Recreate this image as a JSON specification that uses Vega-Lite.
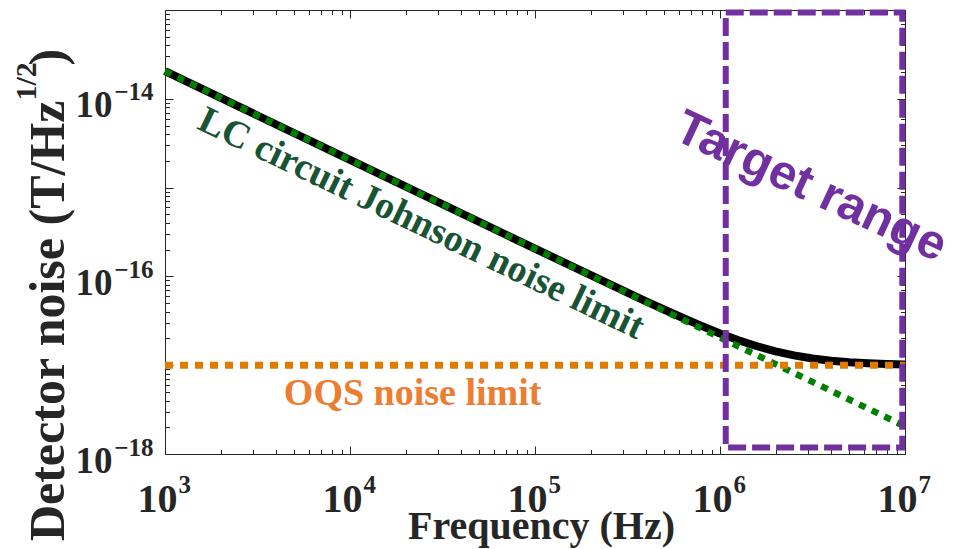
{
  "$schema": "https://vega.github.io/schema/vega-lite/v6.json",
  "autosize": {"type": "none"},
  "width": 740,
  "height": 444,
  "padding": {"left": 165, "top": 10, "right": 56, "bottom": 95},
  "background": "white",
  "config": {"font": "Liberation Serif", "view": {"stroke": null}, "axis": {"grid": false}},
  "datasets": {
    "total": [
      {"f": 1000, "v": 2.05e-14},
      {"f": 10000, "v": 2.05e-15},
      {"f": 100000, "v": 2.052e-16},
      {"f": 316228, "v": 6.56e-17},
      {"f": 398107, "v": 5.245e-17},
      {"f": 501187, "v": 4.211e-17},
      {"f": 630957, "v": 3.399e-17},
      {"f": 794328, "v": 2.768e-17},
      {"f": 1000000, "v": 2.281e-17},
      {"f": 1258925, "v": 1.911e-17},
      {"f": 1584893, "v": 1.635e-17},
      {"f": 1995262, "v": 1.434e-17},
      {"f": 2511886, "v": 1.291e-17},
      {"f": 3162278, "v": 1.192e-17},
      {"f": 3981072, "v": 1.125e-17},
      {"f": 5011872, "v": 1.0804e-17},
      {"f": 6309573, "v": 1.0515e-17},
      {"f": 7943282, "v": 1.0328e-17},
      {"f": 10000000, "v": 1.0208e-17}
    ],
    "johnson": [
      {"f": 1000, "v": 2.05e-14},
      {"f": 10000000, "v": 2.05e-18}
    ],
    "oqs": [
      {"f": 1000, "v": 1e-17},
      {"f": 10000000, "v": 1e-17}
    ],
    "target": [
      {"f1": 1074000, "f2": 9670000, "v1": 9.4e-14, "v2": 1.18e-18}
    ]
  },
  "resolve": {"axis": {"x": "independent", "y": "independent"}},
  "layer": [
    {
      "data": {"name": "total"},
      "mark": {"type": "line", "color": "black", "strokeWidth": 8},
      "encoding": {
        "x": {"field": "f", "type": "quantitative",
          "scale": {"type": "log", "domain": [1000, 10000000], "nice": false},
          "axis": {"orient": "bottom", "labels": false, "title": null, "domain": true, "domainColor": "#262626", "domainWidth": 1,
            "ticks": true, "tickColor": "#262626", "tickWidth": 1,
            "tickSize": {"condition": {"test": "abs(log(datum.value)/LN10 - round(log(datum.value)/LN10)) < 0.01", "value": -8}, "value": -4.5},
            "values": [1000,2000,3000,4000,5000,6000,7000,8000,9000,10000,20000,30000,40000,50000,60000,70000,80000,90000,100000,200000,300000,400000,500000,600000,700000,800000,900000,1000000,2000000,3000000,4000000,5000000,6000000,7000000,8000000,9000000,10000000]}},
        "y": {"field": "v", "type": "quantitative",
          "scale": {"type": "log", "domain": [1e-18, 1e-13], "nice": false},
          "axis": {"orient": "left", "labels": false, "title": null, "domain": true, "domainColor": "#262626", "domainWidth": 1,
            "ticks": true, "tickColor": "#262626", "tickWidth": 1,
            "tickSize": {"condition": {"test": "abs(log(datum.value)/LN10 - round(log(datum.value)/LN10)) < 0.01", "value": -8}, "value": -4.5},
            "values": [1e-18,2e-18,3e-18,4e-18,5e-18,6e-18,7e-18,8e-18,9e-18,1e-17,2e-17,3e-17,4e-17,5e-17,6e-17,7e-17,8e-17,9e-17,1e-16,2e-16,3e-16,4e-16,5e-16,6e-16,7e-16,8e-16,9e-16,1e-15,2e-15,3e-15,4e-15,5e-15,6e-15,7e-15,8e-15,9e-15,1e-14,2e-14,3e-14,4e-14,5e-14,6e-14,7e-14,8e-14,9e-14,1e-13]}}
      }
    },
    {
      "data": {"name": "johnson"},
      "mark": {"type": "line", "color": "#008000", "strokeWidth": 6.5, "strokeDash": [7, 7]},
      "encoding": {
        "x": {"field": "f", "type": "quantitative",
          "scale": {"type": "log", "domain": [1000, 10000000], "nice": false},
          "axis": {"orient": "bottom", "values": [1000, 10000, 100000, 1000000, 10000000], "ticks": false, "domain": false,
            "labelExpr": "'10'", "labelFont": "Liberation Serif", "labelFontWeight": "bold", "labelFontSize": 40, "labelColor": "#262626",
            "labelAlign": "right", "labelBaseline": "alphabetic", "labelOffset": 12, "labelPadding": 57, "labelFlush": false, "labelOverlap": false,
            "title": "Frequency (Hz)", "titleFont": "Liberation Serif", "titleFontWeight": "bold", "titleFontSize": 40, "titleColor": "#262626",
            "titleAlign": "center", "titleBaseline": "alphabetic", "titleX": 376, "titleY": 84}},
        "y": {"field": "v", "type": "quantitative",
          "scale": {"type": "log", "domain": [1e-18, 1e-13], "nice": false},
          "axis": {"orient": "left", "values": [1e-18, 1e-16, 1e-14], "ticks": false, "domain": false,
            "labelExpr": "'10'", "labelFont": "Liberation Serif", "labelFontWeight": "bold", "labelFontSize": 37, "labelColor": "#262626",
            "labelAlign": "right", "labelBaseline": "alphabetic", "labelOffset": 18, "labelPadding": 53, "labelFlush": false, "labelOverlap": false,
            "title": "Detector noise (T/Hz", "titleFont": "Liberation Serif", "titleFontWeight": "bold", "titleFontSize": 50, "titleColor": "#262626",
            "titleAngle": 270, "titleAlign": "right", "titleBaseline": "alphabetic", "titleX": -102, "titleY": 90}}
      }
    },
    {
      "data": {"name": "oqs"},
      "mark": {"type": "line", "color": "#e07b00", "strokeWidth": 7, "strokeDash": [8, 7]},
      "encoding": {
        "x": {"field": "f", "type": "quantitative",
          "scale": {"type": "log", "domain": [1000, 10000000], "nice": false},
          "axis": {"orient": "bottom", "values": [1000, 10000, 100000, 1000000, 10000000], "ticks": false, "domain": false,
            "labelExpr": "'' + round(log(datum.value)/LN10)", "labelFont": "Liberation Serif", "labelFontWeight": "bold", "labelFontSize": 25, "labelColor": "#262626",
            "labelAlign": "left", "labelBaseline": "alphabetic", "labelOffset": 13, "labelPadding": 38, "labelFlush": false, "labelOverlap": false,
            "title": null}},
        "y": {"field": "v", "type": "quantitative",
          "scale": {"type": "log", "domain": [1e-18, 1e-13], "nice": false},
          "axis": {"orient": "left", "values": [1e-18, 1e-16, 1e-14], "ticks": false, "domain": false,
            "labelExpr": "replace('' + round(log(datum.value)/LN10), '-', '\u2212')", "labelFont": "Liberation Serif", "labelFontWeight": "bold", "labelFontSize": 25, "labelColor": "#262626",
            "labelAlign": "right", "labelBaseline": "alphabetic", "labelOffset": 1, "labelPadding": 12, "labelFlush": false, "labelOverlap": false,
            "title": "1/2", "titleFont": "Liberation Serif", "titleFontWeight": "bold", "titleFontSize": 30, "titleColor": "#262626",
            "titleAngle": 270, "titleAlign": "left", "titleBaseline": "alphabetic", "titleX": -130, "titleY": 90}}
      }
    },
    {
      "data": {"name": "target"},
      "mark": {"type": "rect", "filled": false, "color": "#7030a0", "strokeWidth": 6, "strokeDash": [18, 6]},
      "encoding": {
        "x": {"field": "f1", "type": "quantitative",
          "scale": {"type": "log", "domain": [1000, 10000000], "nice": false},
          "axis": {"orient": "top", "labels": false, "title": null, "domain": true, "domainColor": "#262626", "domainWidth": 1,
            "ticks": true, "tickColor": "#262626", "tickWidth": 1,
            "tickSize": {"condition": {"test": "abs(log(datum.value)/LN10 - round(log(datum.value)/LN10)) < 0.01", "value": -8}, "value": -4.5},
            "values": [1000,2000,3000,4000,5000,6000,7000,8000,9000,10000,20000,30000,40000,50000,60000,70000,80000,90000,100000,200000,300000,400000,500000,600000,700000,800000,900000,1000000,2000000,3000000,4000000,5000000,6000000,7000000,8000000,9000000,10000000]}},
        "x2": {"field": "f2"},
        "y": {"field": "v1", "type": "quantitative",
          "scale": {"type": "log", "domain": [1e-18, 1e-13], "nice": false},
          "axis": {"orient": "right", "labels": false, "title": null, "domain": true, "domainColor": "#262626", "domainWidth": 1,
            "ticks": true, "tickColor": "#262626", "tickWidth": 1,
            "tickSize": {"condition": {"test": "abs(log(datum.value)/LN10 - round(log(datum.value)/LN10)) < 0.01", "value": -8}, "value": -4.5},
            "values": [1e-18,2e-18,3e-18,4e-18,5e-18,6e-18,7e-18,8e-18,9e-18,1e-17,2e-17,3e-17,4e-17,5e-17,6e-17,7e-17,8e-17,9e-17,1e-16,2e-16,3e-16,4e-16,5e-16,6e-16,7e-16,8e-16,9e-16,1e-15,2e-15,3e-15,4e-15,5e-15,6e-15,7e-15,8e-15,9e-15,1e-14,2e-14,3e-14,4e-14,5e-14,6e-14,7e-14,8e-14,9e-14,1e-13]}},
        "y2": {"field": "v2"}
      }
    },
    {
      "data": {"values": [{"f": 24200, "v": 3.89e-16, "label": "LC circuit Johnson noise limit"}]},
      "mark": {"type": "text", "font": "Liberation Serif", "fontWeight": "bold", "fontSize": 38, "color": "#185434", "angle": 25.6, "align": "center", "baseline": "middle"},
      "encoding": {
        "x": {"field": "f", "type": "quantitative", "scale": {"type": "log", "domain": [1000, 10000000], "nice": false}, "axis": null},
        "y": {"field": "v", "type": "quantitative", "scale": {"type": "log", "domain": [1e-18, 1e-13], "nice": false},
          "axis": {"orient": "left", "labels": false, "ticks": false, "domain": false,
            "title": ")", "titleFont": "Liberation Serif", "titleFontWeight": "bold", "titleFontSize": 50, "titleColor": "#262626",
            "titleAngle": 270, "titleAlign": "left", "titleBaseline": "alphabetic", "titleX": -102, "titleY": 55}},
        "text": {"field": "label"}
      }
    },
    {
      "data": {"values": [{"f": 21800, "v": 3.56e-18, "label": "OQS noise limit"}]},
      "mark": {"type": "text", "font": "Liberation Serif", "fontWeight": "bold", "fontSize": 38, "color": "#ed7d31", "align": "center", "baseline": "alphabetic"},
      "encoding": {
        "x": {"field": "f", "type": "quantitative", "scale": {"type": "log", "domain": [1000, 10000000], "nice": false}, "axis": null},
        "y": {"field": "v", "type": "quantitative", "scale": {"type": "log", "domain": [1e-18, 1e-13], "nice": false}, "axis": null},
        "text": {"field": "label"}
      }
    },
    {
      "data": {"values": [{"f": 3100000, "v": 1.02e-15, "label": "Target range"}]},
      "mark": {"type": "text", "font": "Liberation Sans", "fontWeight": "bold", "fontSize": 49, "color": "#7030a0", "angle": 25, "align": "center", "baseline": "middle"},
      "encoding": {
        "x": {"field": "f", "type": "quantitative", "scale": {"type": "log", "domain": [1000, 10000000], "nice": false}, "axis": null},
        "y": {"field": "v", "type": "quantitative", "scale": {"type": "log", "domain": [1e-18, 1e-13], "nice": false}, "axis": null},
        "text": {"field": "label"}
      }
    }
  ]
}
